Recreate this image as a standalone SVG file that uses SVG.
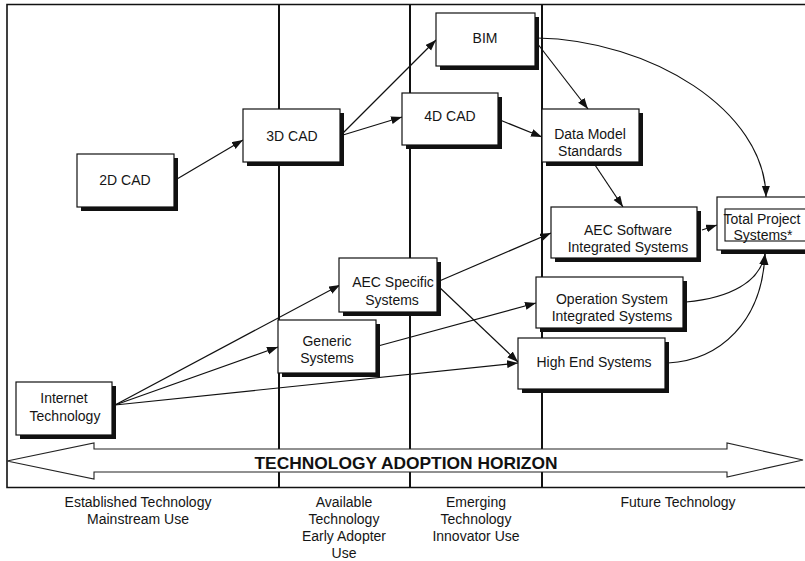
<svg xmlns="http://www.w3.org/2000/svg" width="805" height="561" viewBox="0 0 805 561">
<style>
  .frame{stroke:#111;stroke-width:1.6;fill:none}
  .vline{stroke:#111;stroke-width:2;fill:none}
  .box{fill:#fff;stroke:#111;stroke-width:1.2}
  .shadow{fill:#111}
  .t{font-family:"Liberation Sans",Arial,sans-serif;font-size:14px;fill:#151515;text-anchor:middle}
  .c{stroke:#111;stroke-width:1.2;fill:none;marker-end:url(#ah)}
  .h{font-family:"Liberation Sans",Arial,sans-serif;font-size:17px;font-weight:bold;fill:#111;text-anchor:middle}
</style>
<defs>
  <marker id="ah" markerUnits="userSpaceOnUse" markerWidth="12" markerHeight="9" refX="11" refY="4" orient="auto">
    <path d="M0,0 L11,4 L0,8 z" fill="#111"/>
  </marker>
</defs>
<rect x="0" y="0" width="805" height="561" fill="#fff"/>
<g id="frame">
  <path class="frame" d="M805,4.5 H7 V487.5 H805"/>
  <path class="vline" d="M279,4 V487 M410,4 V487 M542,4 V487"/>
</g>
<g id="horizon">
  <polygon points="7,461 94,443 94,449 727,449 727,443 803,460 727,477 727,472 94,472 94,479" fill="#fff" stroke="#222" stroke-width="1.1"/>
  <text class="h" x="406" y="469" textLength="303" lengthAdjust="spacingAndGlyphs">TECHNOLOGY ADOPTION HORIZON</text>
</g>
<g id="connectors">
  <path class="c" d="M177,179 L243,140"/>
  <path class="c" d="M343,133 L436,40"/>
  <path class="c" d="M343,135 L402,117"/>
  <path class="c" d="M537,43 L588,109"/>
  <path class="c" d="M500,120 L542,137"/>
  <path class="c" d="M537,38 C650,40 765,110 766,197"/>
  <path class="c" d="M593,162 L623,207"/>
  <path class="c" d="M702,230 L717,225"/>
  <path class="c" d="M115,405 L340,285"/>
  <path class="c" d="M115,405 L278,347"/>
  <path class="c" d="M115,405 L518,363"/>
  <path class="c" d="M437,282 L551,233"/>
  <path class="c" d="M437,285 L518,362"/>
  <path class="c" d="M378,346 L536,303"/>
  <path class="c" d="M686,302 C730,298 760,282 765,254"/>
  <path class="c" d="M668,363 C720,360 762,322 765,254"/>
</g>
<g id="n2dcad">
  <rect class="shadow" x="81" y="158" width="97" height="53"/>
  <rect class="box" x="77" y="154" width="97" height="53"/>
  <text class="t" x="125" y="185">2D CAD</text>
</g>
<g id="n3dcad">
  <rect class="shadow" x="247" y="113" width="97" height="53"/>
  <rect class="box" x="243" y="109" width="97" height="53"/>
  <text class="t" x="292" y="141">3D CAD</text>
</g>
<g id="nbim">
  <rect class="shadow" x="440" y="17" width="99" height="53"/>
  <rect class="box" x="436" y="13" width="99" height="53"/>
  <text class="t" x="485" y="43">BIM</text>
</g>
<g id="n4dcad">
  <rect class="shadow" x="406" y="97" width="96" height="52"/>
  <rect class="box" x="402" y="93" width="96" height="52"/>
  <text class="t" x="450" y="121">4D CAD</text>
</g>
<g id="ndatamodel">
  <rect class="shadow" x="546" y="113" width="97" height="53"/>
  <rect class="box" x="542" y="109" width="97" height="53"/>
  <text class="t" x="590" y="139">Data Model</text>
  <text class="t" x="590" y="156">Standards</text>
</g>
<g id="naecsoftware">
  <rect class="shadow" x="555" y="211" width="146" height="51"/>
  <rect class="box" x="551" y="207" width="146" height="51"/>
  <text class="t" x="628" y="235">AEC Software</text>
  <text class="t" x="628" y="252">Integrated Systems</text>
</g>
<g id="ntotalproject">
  <rect class="shadow" x="721" y="201" width="95" height="53"/>
  <rect class="box" x="717" y="197" width="95" height="53"/>
  <rect x="725" y="209" width="90" height="32" fill="none" stroke="#111" stroke-width="1.1"/>
  <text class="t" x="762" y="224">Total Project</text>
  <text class="t" x="763" y="240">Systems*</text>
</g>
<g id="naecspecific">
  <rect class="shadow" x="343" y="262" width="98" height="54"/>
  <rect class="box" x="339" y="258" width="98" height="54"/>
  <text class="t" x="393" y="287">AEC Specific</text>
  <text class="t" x="392" y="305">Systems</text>
</g>
<g id="ngeneric">
  <rect class="shadow" x="282" y="324" width="98" height="53"/>
  <rect class="box" x="278" y="320" width="98" height="53"/>
  <text class="t" x="327" y="346">Generic</text>
  <text class="t" x="327" y="363">Systems</text>
</g>
<g id="noperation">
  <rect class="shadow" x="540" y="281" width="147" height="51"/>
  <rect class="box" x="536" y="277" width="147" height="51"/>
  <text class="t" x="612" y="304">Operation System</text>
  <text class="t" x="612" y="321">Integrated Systems</text>
</g>
<g id="nhighend">
  <rect class="shadow" x="522" y="342" width="147" height="51"/>
  <rect class="box" x="518" y="338" width="147" height="51"/>
  <text class="t" x="594" y="367">High End Systems</text>
</g>
<g id="ninternet">
  <rect class="shadow" x="20" y="386" width="96" height="53"/>
  <rect class="box" x="16" y="382" width="96" height="53"/>
  <text class="t" x="64" y="403">Internet</text>
  <text class="t" x="65" y="421">Technology</text>
</g>
<g id="labels">
  <text class="t" x="138" y="507">Established Technology</text>
  <text class="t" x="138" y="524">Mainstream Use</text>
  <text class="t" x="344" y="507">Available</text>
  <text class="t" x="344" y="524">Technology</text>
  <text class="t" x="344" y="541">Early Adopter</text>
  <text class="t" x="344" y="558">Use</text>
  <text class="t" x="476" y="507">Emerging</text>
  <text class="t" x="476" y="524">Technology</text>
  <text class="t" x="476" y="541">Innovator Use</text>
  <text class="t" x="678" y="507">Future Technology</text>
</g>
</svg>
